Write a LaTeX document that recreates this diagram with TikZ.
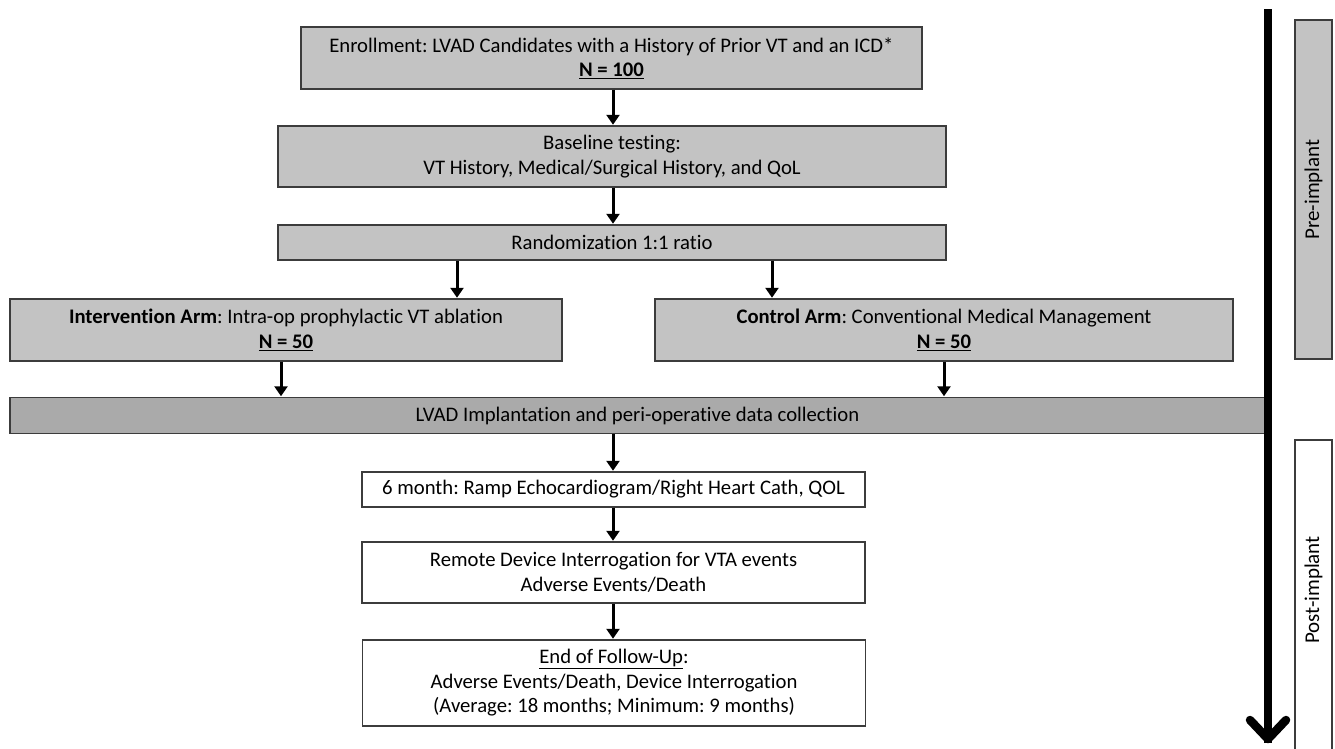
\documentclass[tikz,border=0pt]{standalone}
\usepackage{fontspec}
\setmainfont{Carlito}[Ligatures=NoCommon]
\usetikzlibrary{arrows.meta}
\definecolor{boxgray}{RGB}{195,195,195}
\definecolor{bargray}{RGB}{170,170,170}
\definecolor{edgegray}{RGB}{60,60,60}
\frenchspacing
\begin{document}
\begin{tikzpicture}[x=1pt,y=-1pt,
  box/.style={draw=edgegray,line width=1.3pt,fill=boxgray,inner sep=0pt,align=center,
    font=\fontsize{20.7}{24.5}\selectfont},
  wbox/.style={box,fill=white},
  arr/.style={-{Triangle[length=10pt,width=13pt]},line width=3pt,shorten >=0.6pt},
  side/.style={font=\fontsize{21}{24}\selectfont},
]
\useasboundingbox (0,0) rectangle (1335,748);
% boxes
\node[box,minimum width=621pt,minimum height=62pt] (enroll) at (611.5,58)
  {Enrollment: LVAD Candidates with a History of Prior VT and an ICD*\\\underline{\textbf{N = 100}}};
\node[box,minimum width=668pt,minimum height=61pt] (base) at (612,156.5)
  {Baseline testing:\\VT History, Medical/Surgical History, and QoL};
\node[box,minimum width=668pt,minimum height=35pt] (rand) at (612,242.5)
  {Randomization 1:1 ratio};
\node[box,minimum width=552pt,minimum height=62pt] (interv) at (286,330)
  {\textbf{Intervention Arm}: Intra-op prophylactic VT ablation\\\underline{\textbf{N = 50}}};
\node[box,minimum width=578pt,minimum height=62pt] (ctrl) at (944,330)
  {\textbf{Control Arm}: Conventional Medical Management\\\underline{\textbf{N = 50}}};
\node[box,fill=bargray,minimum width=1255pt,minimum height=36pt] (lvad) at (637.5,415.5)
  {LVAD Implantation and peri-operative data collection};
\node[wbox,minimum width=503pt,minimum height=35pt] (six) at (613.5,489.5)
  {6 month: Ramp Echocardiogram/Right Heart Cath, QOL};
\node[wbox,minimum width=503pt,minimum height=61pt] (remote) at (613.5,572.5)
  {Remote Device Interrogation for VTA events\\Adverse Events/Death};
\node[wbox,minimum width=503pt,minimum height=86pt] (endfu) at (614,683)
  {\underline{End of Follow-Up}:\\Adverse Events/Death, Device Interrogation\\(Average: 18 months; Minimum: 9 months)};
% side labels
\node[box,minimum width=37pt,minimum height=339pt] (pre) at (1313.5,189.5)
  {\rotatebox{90}{\fontsize{21}{24}\selectfont Pre-implant}};
\draw[draw=edgegray,line width=1.3pt,fill=white] (1295,760) -- (1295,440) -- (1332,440) -- (1332,760);
\node[inner sep=0pt,side] (post) at (1313.5,590) {\rotatebox{90}{Post-implant}};
% connectors
\coordinate (cx) at (613,0);
\coordinate (ax1) at (457,0);
\coordinate (ax2) at (772,0);
\coordinate (bx1) at (281,0);
\coordinate (bx2) at (944,0);
\draw[arr] (enroll.south -| cx) -- (base.north -| cx);
\draw[arr] (base.south -| cx) -- (rand.north -| cx);
\draw[arr] (rand.south -| ax1) -- (interv.north -| ax1);
\draw[arr] (rand.south -| ax2) -- (ctrl.north -| ax2);
\draw[arr] (interv.south -| bx1) -- (lvad.north -| bx1);
\draw[arr] (ctrl.south -| bx2) -- (lvad.north -| bx2);
\draw[arr] (lvad.south -| cx) -- (six.north -| cx);
\draw[arr] (six.south -| cx) -- (remote.north -| cx);
\draw[arr] (remote.south -| cx) -- (endfu.north -| cx);
% timeline arrow
\coordinate (ttop) at (1268,9);
\coordinate (ttip) at (1268,739);
\draw[line width=8.5pt] (ttop) -- ([yshift=-4pt]ttip);
\draw[line width=8.5pt,line cap=round,line join=round] (1250,720) -- (ttip) -- (1286,720);
\end{tikzpicture}
\end{document}
